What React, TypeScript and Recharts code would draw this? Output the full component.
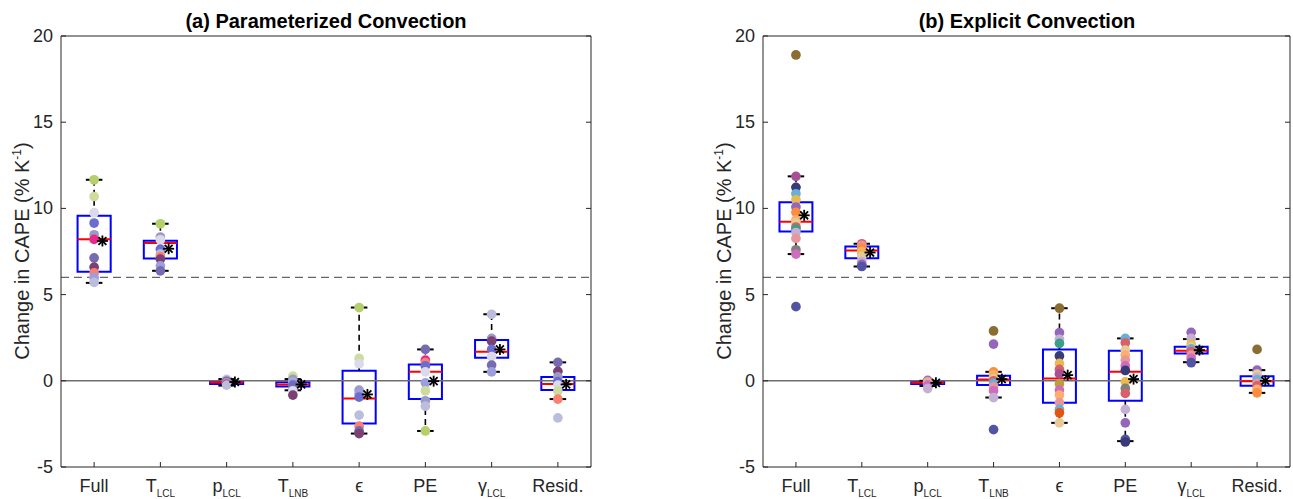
import React from "react";
import {
	Cell,
	ComposedChart,
	ReferenceArea,
	ReferenceLine,
	Scatter,
	XAxis,
	YAxis,
	ZAxis,
} from "recharts";

const FONT = '"Liberation Sans", Arial, Helvetica, sans-serif';
const AXIS = "#262626";

// category tick labels: main text + subscript
const tickMain = ["Full", "T", "p", "T", "\u03f5", "PE", "\u03b3", "Resid."];
const tickSub = ["", "LCL", "LCL", "LNB", "", "", "LCL", ""];
const xTicks = [1, 2, 3, 4, 5, 6, 7, 8];
const yTicks = [-5, 0, 5, 10, 15, 20];

// (a) parameterized convection — one colour per model, dots as [value, colour index]
const paramColors = [
	"#b5cf6b",
	"#cedb9c",
	"#dadaeb",
	"#6b6ecf",
	"#9e9ac8",
	"#e7298a",
	"#756bb1",
	"#7b4173",
	"#fa8072",
	"#bcbddc",
	"#9c9ede",
];
const paramDots: [number, number][][] = [
	[[11.66, 0], [10.69, 1], [9.75, 2], [9.15, 3], [8.47, 4], [8.2, 5], [7.13, 6], [6.59, 7], [6.26, 8], [5.98, 10], [5.71, 9]],
	[[9.11, 0], [8.34, 4], [8.18, 2], [7.64, 3], [7.35, 9], [7.2, 8], [7.06, 7], [6.67, 10], [6.38, 6]],
	[[0.1, 2], [0.05, 9], [0.0, 4], [-0.05, 3], [-0.1, 6], [-0.12, 10], [-0.15, 8], [-0.2, 7], [-0.25, 9]],
	[[0.27, 1], [0.08, 4], [-0.1, 9], [-0.15, 10], [-0.25, 3], [-0.35, 6], [-0.58, 2], [-0.83, 7]],
	[[4.25, 0], [1.3, 1], [0.99, 2], [-0.54, 4], [-0.73, 10], [-0.95, 3], [-1.99, 9], [-2.63, 8], [-2.91, 6], [-3.06, 7]],
	[[1.82, 6], [1.2, 5], [1.05, 8], [0.86, 3], [0.52, 2], [-0.12, 10], [-0.58, 1], [-1.16, 4], [-1.47, 9], [-2.91, 0]],
	[[3.86, 9], [2.46, 4], [2.3, 7], [1.82, 3], [1.4, 2], [0.91, 6], [0.52, 10]],
	[[1.07, 6], [0.55, 7], [0.23, 4], [-0.05, 3], [-0.25, 2], [-0.6, 1], [-1.06, 8], [-2.15, 9]],
];
const paramHi = [11.66, 9.11, 0.1, 0.1, 4.25, 1.82, 3.86, 1.07];
const paramQ3 = [9.57, 8.12, -0.03, -0.09, 0.58, 0.95, 2.37, 0.22];
const paramMed = [8.21, 8.0, -0.1, -0.21, -1.02, 0.52, 1.69, -0.19];
const paramQ1 = [6.32, 7.09, -0.18, -0.33, -2.48, -1.05, 1.34, -0.54];
const paramLo = [5.68, 6.38, -0.28, -0.55, -3.06, -2.91, 0.52, -1.06];
const paramMean = [8.11, 7.66, -0.07, -0.21, -0.79, -0.02, 1.82, -0.21];

// (b) explicit convection
const explColors = [
	"#8c6d31",
	"#a55194",
	"#393b79",
	"#6baed6",
	"#e7ba52",
	"#9467bd",
	"#fd8d3c",
	"#fdae6b",
	"#d6616b",
	"#c5b0d5",
	"#e7969c",
	"#7f7f7f",
	"#ce6dbd",
	"#5254a3",
	"#e7cb94",
	"#3a9e8a",
	"#bd9e39",
	"#e6550d",
];
const explDots: [number, number][][] = [
	[[18.9, 0], [11.86, 1], [11.22, 2], [10.85, 3], [10.5, 4], [10.08, 5], [9.77, 6], [9.33, 7], [9.15, 14], [8.92, 8], [8.8, 15], [8.6, 9], [8.26, 10], [7.6, 11], [7.35, 12], [4.3, 13]],
	[[7.95, 8], [7.85, 10], [7.7, 6], [7.5, 7], [7.35, 4], [7.2, 14], [6.92, 9], [6.75, 5], [6.63, 13]],
	[[0.02, 5], [-0.05, 10], [-0.1, 7], [-0.12, 4], [-0.18, 9], [-0.25, 12], [-0.45, 9]],
	[[2.89, 0], [2.13, 5], [0.52, 6], [0.35, 7], [0.2, 4], [0.1, 14], [0.0, 8], [-0.15, 3], [-0.35, 10], [-0.58, 12], [-0.97, 9], [-2.83, 13]],
	[[4.21, 0], [2.79, 5], [2.41, 9], [2.17, 15], [1.44, 2], [1.01, 4], [0.66, 8], [0.4, 1], [-0.19, 16], [-0.54, 12], [-0.83, 7], [-1.28, 10], [-1.66, 3], [-1.86, 17], [-2.44, 14]],
	[[2.46, 3], [2.2, 8], [1.78, 14], [1.49, 7], [1.2, 10], [0.86, 12], [0.6, 2], [-0.06, 4], [-0.44, 11], [-0.73, 8], [-1.66, 9], [-2.44, 5], [-3.4, 13], [-3.55, 2]],
	[[2.81, 5], [2.46, 9], [2.13, 4], [1.95, 14], [1.85, 3], [1.7, 8], [1.49, 10], [1.3, 12], [1.05, 13]],
	[[1.82, 0], [0.62, 5], [0.39, 14], [0.2, 9], [0.05, 3], [-0.15, 10], [-0.3, 8], [-0.5, 7], [-0.7, 6]],
];
const explHi = [11.86, 7.95, 0.0, 0.52, 4.21, 2.46, 2.42, 0.62];
const explQ3 = [10.35, 7.79, -0.06, 0.29, 1.82, 1.75, 1.98, 0.27];
const explMed = [9.23, 7.56, -0.12, 0.08, 0.14, 0.52, 1.74, -0.02];
const explQ1 = [8.66, 7.11, -0.18, -0.25, -1.28, -1.16, 1.59, -0.29];
const explLo = [7.35, 6.63, -0.3, -0.97, -2.44, -3.5, 1.08, -0.7];
const explMean = [9.6, 7.44, -0.12, 0.1, 0.33, 0.1, 1.78, 0.0];

const BOX_HALF = 0.25;
const CAP_HALF = 0.125;
const MEAN_SHIFT = 0.125;
const DOT_AREA = 74;

function BottomTick(props: any) {
	const { x, y, payload } = props;
	const i = payload.value - 1;
	return (
		<g>
			<line x1={x} y1={y} x2={x} y2={y - 5} stroke={AXIS} />
			<text
				x={x}
				y={y + 25}
				textAnchor="middle"
				fontSize={18}
				fontFamily={FONT}
				fill={AXIS}
			>
				{tickMain[i]}
				{tickSub[i] ? (
					<tspan fontSize={10} dy={5}>
						{tickSub[i]}
					</tspan>
				) : null}
			</text>
		</g>
	);
}

function TopTick(props: any) {
	const { x, y } = props;
	return <line x1={x} y1={y} x2={x} y2={y + 5} stroke={AXIS} />;
}

function LeftTick(props: any) {
	const { x, y, payload } = props;
	return (
		<g>
			<line x1={x} y1={y} x2={x + 5} y2={y} stroke={AXIS} />
			<text
				x={x - 8}
				y={y + 6}
				textAnchor="end"
				fontSize={18}
				fontFamily={FONT}
				fill={AXIS}
			>
				{payload.value}
			</text>
		</g>
	);
}

function RightTick(props: any) {
	const { x, y } = props;
	return <line x1={x} y1={y} x2={x - 5} y2={y} stroke={AXIS} />;
}

function Star(props: any) {
	const { cx, cy } = props;
	const r = 5.5;
	const d = r * 0.72;
	return (
		<g stroke="#000" strokeWidth={1.8}>
			<line x1={cx - r} y1={cy} x2={cx + r} y2={cy} />
			<line x1={cx} y1={cy - r} x2={cx} y2={cy + r} />
			<line x1={cx - d} y1={cy - d} x2={cx + d} y2={cy + d} />
			<line x1={cx - d} y1={cy + d} x2={cx + d} y2={cy - d} />
		</g>
	);
}

interface PanelProps {
	width: number;
	leftW: number;
	right: number;
	colors: string[];
	dots: [number, number][][];
	hi: number[];
	q3: number[];
	med: number[];
	q1: number[];
	lo: number[];
	mean: number[];
}

function Panel({ width, leftW, right, colors, dots, hi, q3, med, q1, lo, mean }: PanelProps) {
	const pts = dots.flatMap((list, i) =>
		list.map(([v, c]) => ({ x: i + 1, y: v, fill: colors[c] })),
	);
	const means = mean.map((m, i) => ({ x: i + 1 + MEAN_SHIFT, y: m }));

	return (
		<ComposedChart
			width={width}
			height={499}
			margin={{ top: 35, right, bottom: 0, left: 0 }}
		>
			<XAxis
				dataKey="x"
				type="number"
				domain={[0.5, 8.5]}
				ticks={xTicks}
				interval={0}
				allowDataOverflow
				height={32}
				tickSize={0}
				tickMargin={0}
				tick={BottomTick}
				stroke={AXIS}
			/>
			<XAxis
				xAxisId="top"
				orientation="top"
				type="number"
				domain={[0.5, 8.5]}
				ticks={xTicks}
				interval={0}
				allowDataOverflow
				height={1}
				tickSize={0}
				tickMargin={0}
				tick={TopTick}
				stroke={AXIS}
			/>
			<YAxis
				type="number"
				domain={[-5, 20]}
				ticks={yTicks}
				interval={0}
				allowDataOverflow
				width={leftW}
				tickSize={0}
				tickMargin={0}
				tick={LeftTick}
				stroke={AXIS}
			/>
			<YAxis
				yAxisId="right"
				orientation="right"
				type="number"
				domain={[-5, 20]}
				ticks={yTicks}
				interval={0}
				allowDataOverflow
				width={1}
				tickSize={0}
				tickMargin={0}
				tick={RightTick}
				stroke={AXIS}
			/>
			<ZAxis range={[DOT_AREA, DOT_AREA]} />
			<ReferenceLine y={6} stroke="#666" strokeWidth={1.3} strokeDasharray="8 5" />
			<ReferenceLine y={0} stroke="#6e6e6e" strokeWidth={1.4} />
			{xTicks.map((x, i) => (
				<ReferenceLine
					key={`wu${x}`}
					segment={[{ x, y: q3[i] }, { x, y: hi[i] }]}
					stroke="#000"
					strokeWidth={1.6}
					strokeDasharray="6 4"
				/>
			))}
			{xTicks.map((x, i) => (
				<ReferenceLine
					key={`wl${x}`}
					segment={[{ x, y: q1[i] }, { x, y: lo[i] }]}
					stroke="#000"
					strokeWidth={1.6}
					strokeDasharray="6 4"
				/>
			))}
			{xTicks.map((x, i) => (
				<ReferenceLine
					key={`cu${x}`}
					segment={[{ x: x - CAP_HALF, y: hi[i] }, { x: x + CAP_HALF, y: hi[i] }]}
					stroke="#000"
					strokeWidth={2}
				/>
			))}
			{xTicks.map((x, i) => (
				<ReferenceLine
					key={`cl${x}`}
					segment={[{ x: x - CAP_HALF, y: lo[i] }, { x: x + CAP_HALF, y: lo[i] }]}
					stroke="#000"
					strokeWidth={2}
				/>
			))}
			{xTicks.map((x, i) => (
				<ReferenceArea
					key={`b${x}`}
					x1={x - BOX_HALF}
					x2={x + BOX_HALF}
					y1={q1[i]}
					y2={q3[i]}
					fill="none"
					stroke="#0000ff"
					strokeWidth={2}
				/>
			))}
			{xTicks.map((x, i) => (
				<ReferenceLine
					key={`m${x}`}
					segment={[{ x: x - BOX_HALF, y: med[i] }, { x: x + BOX_HALF, y: med[i] }]}
					stroke="#ff0000"
					strokeWidth={2}
				/>
			))}
			<Scatter data={pts} dataKey="y" isAnimationActive={false}>
				{pts.map((p, k) => (
					<Cell key={k} fill={p.fill} />
				))}
			</Scatter>
			<Scatter data={means} dataKey="y" shape={Star} isAnimationActive={false} />
		</ComposedChart>
	);
}

export default function App() {
	return (
		<div
			style={{
				position: "absolute",
				left: 0,
				top: 0,
				width: 1293,
				height: 499,
				background: "#fff",
				fontFamily: FONT,
			}}
		>
			<div style={{ position: "absolute", left: 0, top: 0 }}>
				<Panel
					width={600}
					leftW={61}
					right={8}
					colors={paramColors}
					dots={paramDots}
					hi={paramHi}
					q3={paramQ3}
					med={paramMed}
					q1={paramQ1}
					lo={paramLo}
					mean={paramMean}
				/>
			</div>
			<div style={{ position: "absolute", left: 700, top: 0 }}>
				<Panel
					width={593}
					leftW={63}
					right={2}
					colors={explColors}
					dots={explDots}
					hi={explHi}
					q3={explQ3}
					med={explMed}
					q1={explQ1}
					lo={explLo}
					mean={explMean}
				/>
			</div>
			<svg
				width={1293}
				height={499}
				style={{ position: "absolute", left: 0, top: 0, pointerEvents: "none" }}
			>
				<text x={326} y={28} textAnchor="middle" fontSize={20} fontWeight="bold" fontFamily={FONT} fill="#000">
					(a) Parameterized Convection
				</text>
				<text x={1027} y={28} textAnchor="middle" fontSize={20} fontWeight="bold" fontFamily={FONT} fill="#000">
					(b) Explicit Convection
				</text>
				{[22, 724].map((cx) => (
					<text
						key={cx}
						transform={`translate(${cx + 7},251) rotate(-90)`}
						textAnchor="middle"
						fontSize={20}
						fontFamily={FONT}
						fill={AXIS}
					>
						Change in CAPE (% K
						<tspan fontSize={12} dy={-8}>
							-1
						</tspan>
						<tspan dy={8}>)</tspan>
					</text>
				))}
			</svg>
		</div>
	);
}
